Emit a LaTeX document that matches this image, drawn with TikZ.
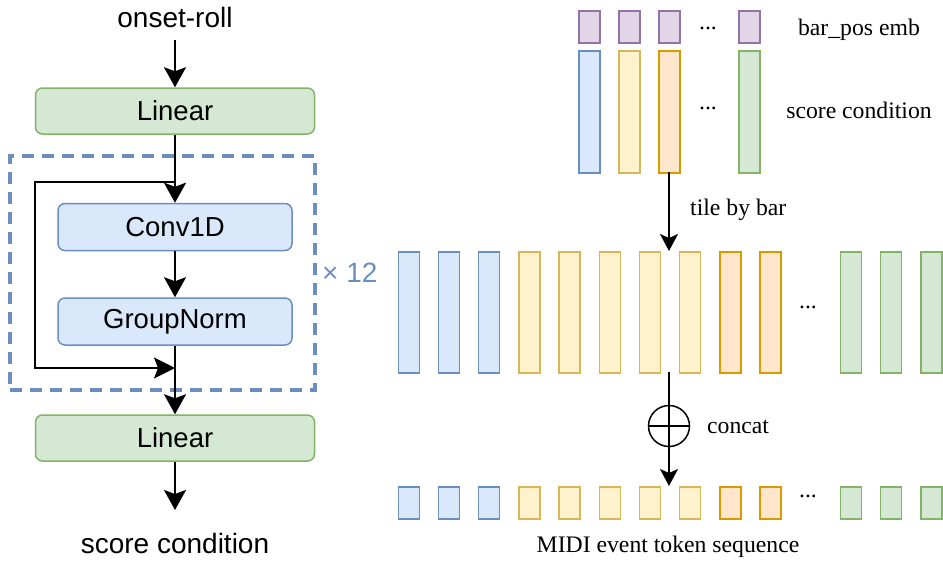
\documentclass[tikz,border=0pt]{standalone}
\usepackage{fontspec}
\setmainfont{Liberation Serif}
\newfontfamily\arialf{Liberation Sans}
\usetikzlibrary{arrows.meta}
\definecolor{bfill}{HTML}{DAE8FC}\definecolor{bline}{HTML}{6C8EBF}
\definecolor{yfill}{HTML}{FFF2CC}\definecolor{yline}{HTML}{D6B656}
\definecolor{ofill}{HTML}{FFE6CC}\definecolor{oline}{HTML}{D79B00}
\definecolor{gfill}{HTML}{D5E8D4}\definecolor{gline}{HTML}{82B366}
\definecolor{pfill}{HTML}{E1D5E7}\definecolor{pline}{HTML}{9673A6}
\tikzset{
  lab/.style={font=\arialf\fontsize{28}{33}\selectfont, inner sep=0pt},
  rlab/.style={font=\fontsize{23.7}{28}\selectfont, inner sep=0pt},
  blk/.style={draw, rounded corners=7pt, line width=1.5pt, inner sep=0pt,
    font=\arialf\fontsize{27.5}{31}\selectfont},
  gblk/.style={blk, fill=gfill, draw=gline, minimum width=279pt, minimum height=46pt},
  bblk/.style={blk, fill=bfill, draw=bline, minimum width=234pt, minimum height=47pt},
  arr/.style={-{Stealth[length=20pt,width=22pt,inset=4pt]}, line width=2.2pt},
  skiparr/.style={-{Stealth[length=21pt,width=21pt,inset=4pt]}, line width=1.7pt},
  rarr/.style={-{Stealth[length=17pt,width=18pt,inset=4pt]}, line width=1.6pt},
  barbox/.style={draw, rectangle, line width=1.5pt, inner sep=0pt,
    minimum width=21pt, anchor=north west},
  cb/.style={barbox, fill=bfill, draw=bline},
  cy/.style={barbox, fill=yfill, draw=yline},
  co/.style={barbox, fill=ofill, draw=oline},
  cg/.style={barbox, fill=gfill, draw=gline},
  cp/.style={barbox, fill=pfill, draw=pline},
}
\begin{document}
\begin{tikzpicture}[x=1pt,y=-1pt]
\useasboundingbox (0,0) rectangle (943,563);
% ---------------- left part ----------------
\node[lab] (onset) at (175,17) {onset-roll};
\coordinate (ostart) at (175,40);
\node[gblk] (lin1) at (175,111) {Linear};
\node[draw=bline, dash pattern=on 12pt off 8pt, line width=3.5pt,
  minimum width=305pt, minimum height=234pt, inner sep=0pt] (rep) at (162.5,273) {};
\node[lab, text=bline, anchor=west] (times) at (322,273) {× 12};
\node[bblk] (conv) at (175,227) {Conv1D};
\node[bblk] (gn) at (175,321.5) {GroupNorm};
\node[gblk] (lin2) at (175,438) {Linear};
\coordinate (oend) at (175,510);
\node[lab] (sc) at (175,543) {score condition};
\coordinate (split) at (175,182);
\coordinate (join) at (175,368);

\draw[arr] (ostart) -- (lin1.north);
\draw[arr] (lin1.south) -- (conv.north);
\draw[arr] (conv.south) -- (gn.north);
\draw[arr] (gn.south) -- (lin2.north);
\draw[arr] (lin2.south) -- (oend);
\draw[skiparr] (split) -- (35,182) -- (35,368) -- (join);

% ---------------- right part ----------------
% bar_pos emb row
\node[cp, minimum height=32pt] (p1) at (578,10) {};
\node[cp, minimum height=32pt] (p2) at (618,10) {};
\node[cp, minimum height=32pt] (p3) at (658,10) {};
\node[cp, minimum height=32pt] (p4) at (738,10) {};
\node[rlab] (pdots) at (708,28) {...};
\node[rlab, anchor=base] (pl) at (859,35) {bar\_pos emb};
% score condition row
\node[cb, minimum height=122pt] (s1) at (578,50) {};
\node[cy, minimum height=122pt] (s2) at (618,50) {};
\node[co, minimum height=122pt] (s3) at (658,50) {};
\node[cg, minimum height=122pt] (s4) at (738,50) {};
\node[rlab] (sdots) at (708,108) {...};
\node[rlab, anchor=base] (sl) at (859,118) {score condition};

% tiled row and token row
\foreach \i/\st in {0/cb,1/cb,2/cb,3/cy,4/cy,5/cy,6/cy,7/cy,8/co,9/co,11/cg,12/cg,13/cg}{
  \node[\st, minimum height=121pt] (m\i) at ({397.5+40.2*\i},251) {};
  \node[\st, minimum height=32pt] (b\i) at ({397.5+40.2*\i},486) {};
}
\node[rlab] (mdots) at (808,307) {...};
\node[rlab] (bdots) at (808,496) {...};

\coordinate (a1) at (669,172);
\coordinate (a2) at (669,251);
\coordinate (a3) at (669,372);
\coordinate (a4) at (669,486);
\draw[rarr] (a1) -- (a2);
\node[rlab, anchor=west] (tile) at (690,210) {tile by bar};
\draw[rarr] (a3) -- (a4);
\node[draw, circle, line width=1.5pt, minimum size=41pt, inner sep=0pt] (cat) at (669,426) {};
\draw[line width=1.5pt] (cat.west) -- (cat.east);
\node[rlab, anchor=west] (concat) at (707,427) {concat};
\node[rlab] (midi) at (668,547) {MIDI event token sequence};
\end{tikzpicture}
\end{document}
